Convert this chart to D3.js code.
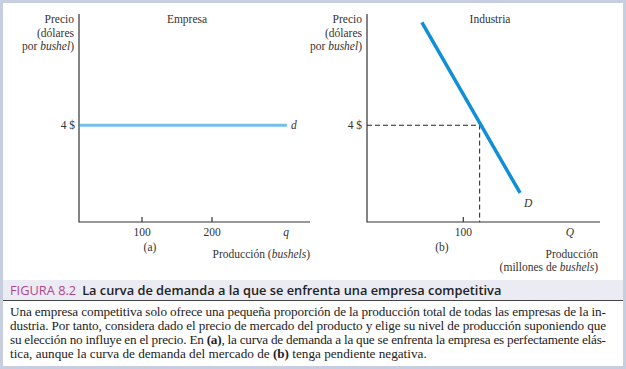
<!DOCTYPE html>
<html>
<head>
<meta charset="utf-8">
<script src="https://cdn.jsdelivr.net/npm/d3@7"></script>
<style>
  body { margin: 0; background: #fff; }
  svg { display: block; }
  .lbl { font-family: "Liberation Serif", serif; font-size: 11.5px; fill: #333; }
  .axis { stroke: #333; stroke-width: 1.2; fill: none; }
</style>
</head>
<body>
<svg id="chart" width="626" height="369"></svg>
<script>
// panel (a) - firm
const firmPrice = 4;
const firmQ = [10, 307];
const firmTicks = [100, 200];

// panel (b) - industry demand
const demandQ = [57, 159];
const demandP = [8.25, 1.2];
const eqQ = 117;
const eqP = 4;
const industryTicks = [100];

const captionTitle = "FIGURA 8.2";
const captionHead = "La curva de demanda a la que se enfrenta una empresa competitiva";
const captionLines = [
  [["Una empresa competitiva solo ofrece una pequeña proporción de la producción total de todas las empresas de la in-", false]],
  [["dustria. Por tanto, considera dado el precio de mercado del producto y elige su nivel de producción suponiendo que", false]],
  [["su elección no influye en el precio. En ", false], ["(a)", true], [", la curva de demanda a la que se enfrenta la empresa es perfectamente elás-", false]],
  [["tica, aunque la curva de demanda del mercado de ", false], ["(b)", true], [" tenga pendiente negativa.", false]]
];

const svg = d3.select("#chart");

// scales
const xA = d3.scaleLinear().domain([10, 340]).range([79, 310]);
const xB = d3.scaleLinear().domain([0, 242]).range([367, 600]);
const y = d3.scaleLinear().domain([0, 8.6]).range([222, 14]);

function drawAxes(x, ticks) {
    const g = svg.append("g");
    const [x0, x1] = x.range();
    g.append("path").attr("class", "axis")
        .attr("d", `M${x0},${y.range()[1]}V${y(0)}H${x1}`);
    g.selectAll(".tick").data(ticks).enter().append("line")
        .attr("class", "axis")
        .attr("x1", d => x(d)).attr("x2", d => x(d))
        .attr("y1", y(0)).attr("y2", y(0) - 5);
    g.selectAll(".tl").data(ticks).enter().append("text")
        .attr("class", "lbl")
        .attr("x", d => x(d)).attr("y", y(0) + 14)
        .attr("text-anchor", "middle")
        .text(d => d);
    return g;
}

function yTitle(xr) {
    const t = svg.append("text").attr("class", "lbl").attr("text-anchor", "end");
    t.append("tspan").attr("x", xr).attr("y", 23).text("Precio");
    t.append("tspan").attr("x", xr).attr("y", 37).text("(dólares");
    const l3 = t.append("tspan").attr("x", xr).attr("y", 50);
    l3.append("tspan").text("por ");
    l3.append("tspan").attr("font-style", "italic").text("bushel");
    l3.append("tspan").text(")");
}

// ---- panel (a)
drawAxes(xA, firmTicks);
yTitle(74);
svg.append("text").attr("class", "lbl").attr("x", 187).attr("y", 23)
    .attr("text-anchor", "middle").text("Empresa");
svg.append("text").attr("class", "lbl").attr("x", 75).attr("y", y(firmPrice) + 4)
    .attr("text-anchor", "end").text("4 $");
svg.append("line")
    .attr("x1", xA(firmQ[0]) + 1).attr("x2", xA(firmQ[1]))
    .attr("y1", y(firmPrice)).attr("y2", y(firmPrice))
    .attr("stroke", "#74bfea").attr("stroke-width", 3);
svg.append("text").attr("class", "lbl").attr("font-style", "italic")
    .attr("x", xA(firmQ[1]) + 4).attr("y", y(firmPrice) + 4).text("d");
svg.append("text").attr("class", "lbl").attr("font-style", "italic")
    .attr("x", xA(306)).attr("y", y(0) + 14).attr("text-anchor", "middle").text("q");
svg.append("text").attr("class", "lbl").attr("x", 150).attr("y", 251)
    .attr("text-anchor", "middle").text("(a)");
const pa = svg.append("text").attr("class", "lbl").attr("x", 310).attr("y", 258)
    .attr("text-anchor", "end");
pa.append("tspan").text("Producción (");
pa.append("tspan").attr("font-style", "italic").text("bushels");
pa.append("tspan").text(")");

// ---- panel (b)
drawAxes(xB, industryTicks);
yTitle(362);
svg.append("text").attr("class", "lbl").attr("x", 490).attr("y", 23)
    .attr("text-anchor", "middle").text("Industria");
svg.append("text").attr("class", "lbl").attr("x", 362).attr("y", y(eqP) + 4)
    .attr("text-anchor", "end").text("4 $");
svg.append("path")
    .attr("d", `M${xB(0)},${y(eqP)}H${xB(eqQ)}V${y(0)}`)
    .attr("fill", "none").attr("stroke", "#222").attr("stroke-width", 1)
    .attr("stroke-dasharray", "5,3");
const demand = d3.zip(demandQ, demandP);
svg.append("path")
    .attr("d", d3.line().x(d => xB(d[0])).y(d => y(d[1]))(demand))
    .attr("fill", "none").attr("stroke", "#0f8fd8").attr("stroke-width", 3.5);
svg.append("text").attr("class", "lbl").attr("font-style", "italic")
    .attr("x", xB(demandQ[1]) + 4).attr("y", y(demandP[1]) + 14).text("D");
svg.append("text").attr("class", "lbl").attr("font-style", "italic")
    .attr("x", 570).attr("y", y(0) + 14).attr("text-anchor", "middle").text("Q");
svg.append("text").attr("class", "lbl").attr("x", 442).attr("y", 251)
    .attr("text-anchor", "middle").text("(b)");
svg.append("text").attr("class", "lbl").attr("x", 598).attr("y", 258)
    .attr("text-anchor", "end").text("Producción");
const pb = svg.append("text").attr("class", "lbl").attr("x", 598).attr("y", 271)
    .attr("text-anchor", "end");
pb.append("tspan").text("(millones de ");
pb.append("tspan").attr("font-style", "italic").text("bushels");
pb.append("tspan").text(")");

// ---- caption
svg.append("rect").attr("x", 2).attr("y", 280).attr("width", 622).attr("height", 20)
    .attr("fill", "#ebebf4");
svg.append("line").attr("x1", 2).attr("x2", 624).attr("y1", 300.5).attr("y2", 300.5)
    .attr("stroke", "#444").attr("stroke-width", 1);
const head = svg.append("text").attr("x", 10).attr("y", 295)
    .attr("font-family", "'Open Sans', sans-serif").attr("font-size", 12.8);
head.append("tspan").attr("fill", "#b3438a").text(captionTitle);
head.append("tspan").attr("fill", "#222").attr("font-weight", 600).attr("dx", 6).text(captionHead);

captionLines.forEach((parts, i) => {
    const t = svg.append("text")
        .attr("x", 10).attr("y", 316 + i * 14)
        .attr("font-family", "'Liberation Serif', serif").attr("font-size", 13.2)
        .attr("fill", "#222");
    if (i < captionLines.length - 1) {
        t.attr("textLength", 596).attr("lengthAdjust", "spacing");
    }
    parts.forEach(p => {
        t.append("tspan").attr("font-weight", p[1] ? "bold" : null).text(p[0]);
    });
});

// outer frame
svg.append("rect").attr("x", 1.5).attr("y", 1.5).attr("width", 623).attr("height", 366)
    .attr("fill", "none").attr("stroke", "#c6cee0").attr("stroke-width", 3);
</script>
</body>
</html>
